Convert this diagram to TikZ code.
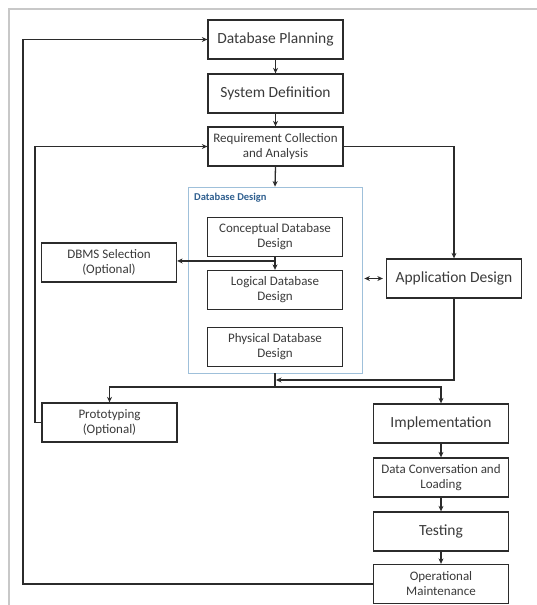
\documentclass[tikz,border=0pt]{standalone}
\usepackage{fontspec}
\setmainfont{Carlito}
\usetikzlibrary{arrows.meta,calc}
\definecolor{txt}{HTML}{3A3A3A}
\definecolor{edge}{HTML}{2B2B2B}
\definecolor{frame}{HTML}{C8C8C8}
\definecolor{dbblue}{HTML}{9FC0DA}
\definecolor{titleblue}{HTML}{2F5F8F}
\tikzset{
  x=1pt, y=-1pt,
  boxs/.style={draw=edge, line width=1.3pt, minimum width=135pt, minimum height=39pt,
    align=center, text=txt, inner sep=2pt, font=\fontsize{13}{15}\selectfont},
  boxl/.style={boxs, font=\fontsize{15.5}{18}\selectfont},
  conn/.style={draw=edge, line width=1.3pt},
  arr/.style={conn, -{Stealth[length=5.5pt,width=5pt]}},
  darr/.style={conn, {Stealth[length=5.5pt,width=5pt]}-{Stealth[length=5.5pt,width=5pt]}}
}
\begin{document}
\begin{tikzpicture}
\useasboundingbox (0,0) rectangle (537,605);
% page frame
\draw[frame, line width=1.2pt] (9,605) -- (9,9) -- (537,9);

% container
\node[draw=dbblue, line width=0.8pt, minimum width=174pt, minimum height=186pt, inner sep=0pt] (dbd) at (275,280) {};
\node[anchor=west, text=titleblue, font=\fontsize{10.5}{12}\selectfont\bfseries, inner sep=0pt] (dbdt) at (194,198) {Database Design};

\node[boxl] (plan) at (275.5,39.5) {Database Planning};
\node[boxl] (sys) at (275.5,93.5) {System Definition};
\node[boxs] (req) at (275.5,146.5) {Requirement Collection\\and Analysis};
\node[boxs] (concept) at (275,237) {Conceptual Database\\Design};
\node[boxs] (logical) at (275,290) {Logical Database\\Design};
\node[boxs] (physical) at (275,347) {Physical Database\\Design};
\node[boxs] (dbms) at (109,262.5) {DBMS Selection\\(Optional)};
\node[boxl] (app) at (454,278.5) {Application Design};
\node[boxs] (proto) at (109.5,422.5) {Prototyping\\(Optional)};
\node[boxl] (impl) at (441,423.5) {Implementation};
\node[boxs] (conv) at (441,477.5) {Data Conversation and\\Loading};
\node[boxl] (test) at (441,531.5) {Testing};
\node[boxs] (opm) at (441,584) {Operational\\Maintenance};

\coordinate (lo) at (23,0);
\coordinate (li) at (35,0);
\coordinate (split) at (275,387);
\coordinate (merge) at (276,380);
\coordinate (branch) at ($(concept.south)!0.3!(logical.north)$);

\draw[arr] (plan) -- (sys);
\draw[arr] (sys) -- (req);
\draw[arr] (req.south) -- (dbd.north);
\draw[arr] (concept) -- (logical);
\draw[arr] (branch) -- (branch -| dbms.east);
\draw[darr] ([xshift=2pt]dbd.east |- app.west) -- ([xshift=-3pt]app.west);
\draw[arr] (req.east) -| (app.north);
\draw[arr] (opm.west) -- (opm.west -| lo) -- (lo |- plan.west) -- (plan.west);
\draw[arr] (proto.west) -- (proto.west -| li) -- (li |- req.west) -- (req.west);
\draw[conn] (dbd.south) -- (split);
\draw[arr] (split) -| (proto.north);
\draw[arr] (split) -| (impl.north);
\draw[arr] (app.south) |- (merge);
\draw[arr] (impl) -- (conv);
\draw[arr] (conv) -- (test);
\draw[arr] (test) -- (opm);
\end{tikzpicture}
\end{document}
